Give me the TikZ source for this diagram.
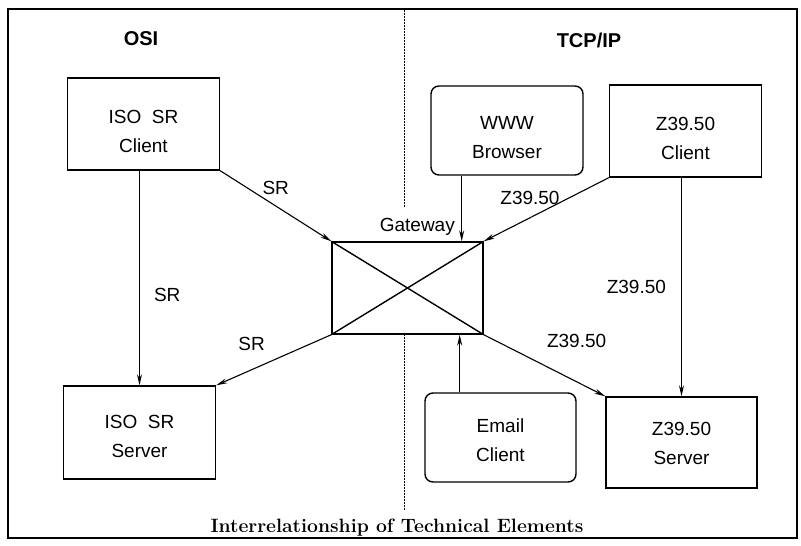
\documentclass[tikz,border=0pt]{standalone}
\usepackage{fontspec}
\setsansfont{Liberation Sans}
\usetikzlibrary{positioning,arrows.meta}
\newcommand\lowtext[1]{\rule{0pt}{#1}}

\begin{document}
\begin{tikzpicture}[x=1pt,y=-1pt,
  box/.style={draw,line width=1.4pt,minimum width=152pt,minimum height=92pt,inner sep=0pt,
    align=center,font=\sffamily\fontsize{19}{29}\selectfont},
  rbox/.style={box,rounded corners=8pt,minimum height=89pt},
  lab/.style={font=\sffamily\fontsize{19}{23}\selectfont,inner sep=2pt},
  head/.style={font=\sffamily\bfseries\fontsize{20}{24}\selectfont},
  conn/.style={line width=1.1pt,-{Stealth[length=11pt,width=5pt]}},
  divider/.style={line width=1pt,dash pattern=on 1.5pt off 1.5pt}]
\useasboundingbox (0,0) rectangle (801,546);
\draw [line width=1.4pt] (8,9) rectangle (797,538);
\draw [divider] (404,10) -- (404,207) (404,334) -- (404,510);
\node [head] (osi) at (141,39) {OSI};
\node [head] (tcpip) at (589,40) {TCP/IP};
% boxes
\node [box] (isoc) at (143.5,124) {\lowtext{29pt}ISO\ \ SR\\Client};
\node [box,minimum height=93pt] (isos) at (139.5,432.5) {\lowtext{22pt}ISO\ \ SR\\Server};
\node [rbox] (www) at (507,130.5) {\lowtext{28pt}WWW\\Browser};
\node [box] (zc) at (685.5,131) {\lowtext{29pt}Z39.50\\Client};
\node [box,minimum width=151pt] (gw) at (407.5,288) {};
\node [rbox,minimum width=151pt] (email) at (500.5,437.5) {\lowtext{19pt}Email\\Client};
\node [box,minimum width=151pt,minimum height=91pt] (zs) at (681.5,442.5) {\lowtext{16pt}Z39.50\\Server};
\node [lab,anchor=base east] (gwlab) at (457,231) {Gateway};
\draw [line width=1.4pt] (gw.north west) -- (gw.south east) (gw.north east) -- (gw.south west);
\coordinate (wwwin) at ([xshift=-22pt]gw.north east);
\coordinate (emailin) at ([xshift=-24pt]gw.south east);
% connectors
\draw [conn] (isoc.south east) -- (gw.north west) node [lab,midway,above=9pt] {SR};
\draw [conn] (isoc.south -| isos.north) -- (isos.north) node [lab,pos=0.58,right=12pt] {SR};
\draw [conn] (gw.south west) -- (isos.north east) node [lab,midway,above left=9pt] {SR};
\draw [conn] (zc.south west) -- (gw.north east) node [lab,pos=0.63,above=11pt] {Z39.50};
\draw [conn] (zc.south -| zs.north) -- (zs.north) node [lab,midway,left=13pt] {Z39.50};
\draw [conn] (gw.south east) -- (zs.north west) node [lab,midway,above right=15pt and 0pt] {Z39.50};
\draw [conn] (www.south -| wwwin) -- (wwwin);
\draw [conn] (email.north -| emailin) -- (emailin);
\node [font=\bfseries\fontsize{19.3}{23}\selectfont,anchor=base] (caption) at (397,532) {Interrelationship of Technical Elements};
\end{tikzpicture}
\end{document}
